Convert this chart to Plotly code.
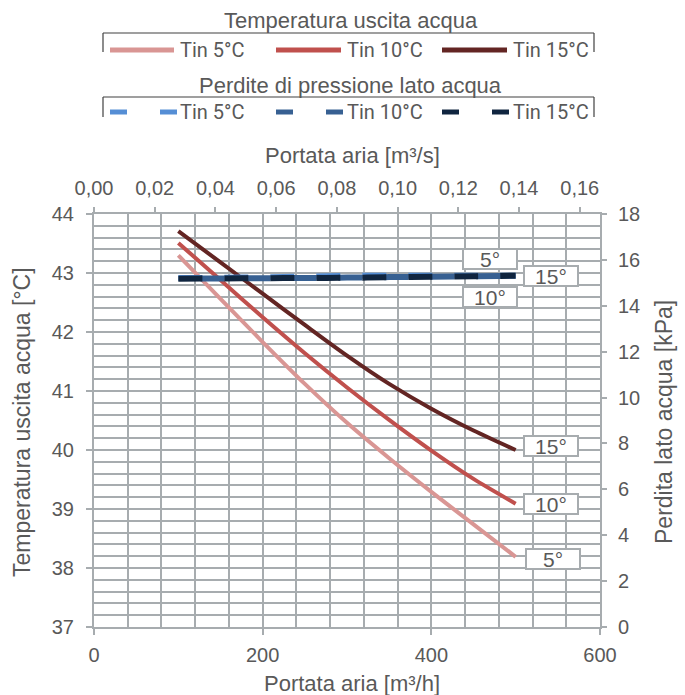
import plotly.graph_objects as go

# ---------------- data ----------------
portata_m3h = [100, 150, 200, 250, 300, 350, 400, 450, 500]

temp_tin5 = [43.30, 42.56, 41.83, 41.12, 40.46, 39.86, 39.29, 38.74, 38.19]
temp_tin10 = [43.51, 42.88, 42.25, 41.64, 41.06, 40.51, 39.99, 39.51, 39.09]
temp_tin15 = [43.71, 43.18, 42.65, 42.12, 41.60, 41.12, 40.70, 40.33, 40.00]

dp_tin5 = [15.21, 15.22, 15.24, 15.27, 15.30, 15.31, 15.31, 15.31, 15.31]
dp_tin10 = [15.18, 15.19, 15.20, 15.21, 15.23, 15.25, 15.27, 15.29, 15.31]
dp_tin15 = [15.18, 15.19, 15.20, 15.21, 15.22, 15.24, 15.27, 15.29, 15.31]

series_names = ["Tin 5°C", "Tin 10°C", "Tin 15°C"]
end_labels = ["5°", "10°", "15°"]
x_top_ticks = [0.00, 0.02, 0.04, 0.06, 0.08, 0.10, 0.12, 0.14, 0.16]

# ---------------- style ----------------
TEMP_COLORS = ["#D99694", "#C0504D", "#632523"]
DP_COLORS = ["#558ED5", "#376092", "#10253F"]
GRID = "#A7ACAF"
TXT = "#595959"
FONT = "Liberation Sans, Arial, sans-serif"
LEGFONT = "Roboto, Liberation Sans, sans-serif"

W, H = 685, 695
L, R, T, B = 94, 85, 214, 68
PW, PH = W - L - R, H - T - B


def px(x):
    return (x - L) / PW


def py(y):
    return (H - B - y) / PH


fig = go.Figure()

temps = [temp_tin5, temp_tin10, temp_tin15]
dps = [dp_tin5, dp_tin10, dp_tin15]

for i in range(3):
    fig.add_trace(go.Scatter(
        x=portata_m3h, y=temps[i], name=series_names[i], mode="lines",
        line=dict(color=TEMP_COLORS[i], width=4, shape="spline", smoothing=0.8),
        xaxis="x", yaxis="y", showlegend=False))

dashes = ["24px,22px", "0px,22px,24px,0px", "24px,22px"]
for i in range(3):
    fig.add_trace(go.Scatter(
        x=portata_m3h, y=dps[i], name=series_names[i], mode="lines",
        line=dict(color=DP_COLORS[i], width=6, dash=dashes[i], shape="spline"),
        xaxis="x", yaxis="y2", showlegend=False))

# invisible helper trace for the m3/s axis
fig.add_trace(go.Scatter(
    x=[v / 3600 for v in portata_m3h], y=temp_tin15, mode="lines",
    line=dict(width=0, color="rgba(0,0,0,0)"), xaxis="x2", yaxis="y",
    showlegend=False, hoverinfo="skip"))

tickfont = dict(family=FONT, size=20, color=TXT)

fig.update_layout(
    width=W, height=H,
    margin=dict(l=L, r=R, t=T, b=B),
    paper_bgcolor="white", plot_bgcolor="white",
    separators=",.",
    showlegend=False,
    font=dict(family=FONT, color=TXT),
    xaxis=dict(range=[0, 600], tick0=0, dtick=200, ticks="outside", ticklen=6,
               tickwidth=2, tickcolor=GRID, showgrid=True, gridcolor=GRID,
               gridwidth=2, zeroline=False, showline=True, mirror=True,
               linecolor=GRID, linewidth=2, tickfont=tickfont, ticklabelstandoff=3,
               minor=dict(dtick=40, showgrid=True, gridcolor=GRID, gridwidth=2, ticks="")),
    xaxis2=dict(range=[0, 600 / 3600], overlaying="x", side="top", anchor="y",
                tickvals=x_top_ticks, tickformat=".2f", ticks="outside",
                ticklen=6, tickwidth=2, tickcolor=GRID, showgrid=False,
                zeroline=False, tickfont=tickfont, ticklabelstandoff=4),
    yaxis=dict(range=[37, 44], tick0=37, dtick=1, ticks="outside", ticklen=6,
               tickwidth=2, tickcolor=GRID, showgrid=True, gridcolor=GRID,
               gridwidth=2, zeroline=False, showline=True, mirror=True,
               linecolor=GRID, linewidth=2, tickfont=tickfont, ticklabelstandoff=8,
               minor=dict(dtick=0.2, showgrid=True, gridcolor=GRID, gridwidth=2, ticks="")),
    yaxis2=dict(range=[0, 18], tick0=0, dtick=2, overlaying="y", side="right",
                anchor="x", ticks="outside", ticklen=6, tickwidth=2,
                tickcolor=GRID, showgrid=False, zeroline=False, tickfont=tickfont,
                ticklabelstandoff=7),
)

ann = []
shapes = []

# axis titles
title_font = dict(family=FONT, size=22, color=TXT)
vtitle_font = dict(family=FONT, size=23, color=TXT)
ann.append(dict(text="Portata aria [m³/h]", x=px(352), y=py(683), xref="paper", yref="paper",
                showarrow=False, font=title_font, xanchor="center", yanchor="middle"))
ann.append(dict(text="Portata aria [m³/s]", x=px(352), y=py(155), xref="paper", yref="paper",
                showarrow=False, font=title_font, xanchor="center", yanchor="middle"))
ann.append(dict(text="Temperatura uscita acqua [°C]", x=px(22), y=py(422), xref="paper",
                yref="paper", showarrow=False, font=vtitle_font, textangle=-90,
                xanchor="center", yanchor="middle"))
ann.append(dict(text="Perdita lato acqua [kPa]", x=px(664), y=py(422), xref="paper",
                yref="paper", showarrow=False, font=vtitle_font, textangle=-90,
                xanchor="center", yanchor="middle"))

# end labels
lab_font = dict(family=FONT, size=21, color=TXT)
box = dict(showarrow=False, font=lab_font, bgcolor="white", bordercolor=GRID,
           borderwidth=2, borderpad=0, width=52, height=18, align="center")
temp_shift = [(9, -2), (7, 0), (7, 4)]
for i in range(3):
    ann.append(dict(text=end_labels[i], x=portata_m3h[-1], y=temps[i][-1], xref="x", yref="y",
                    xanchor="left", yanchor="middle", xshift=temp_shift[i][0],
                    yshift=temp_shift[i][1], **box))
# pressure labels
ann.append(dict(text=end_labels[2], x=portata_m3h[-1], y=dp_tin15[-1], xref="x", yref="y2",
                xanchor="left", yanchor="middle", xshift=7, **box))
ann.append(dict(text=end_labels[0], x=portata_m3h[-1], y=dp_tin15[-1], xref="x", yref="y2",
                xanchor="right", yanchor="bottom", xshift=2, yshift=6, **box))
ann.append(dict(text=end_labels[1], x=portata_m3h[-1], y=dp_tin15[-1], xref="x", yref="y2",
                xanchor="right", yanchor="top", xshift=2, yshift=-10, **box))

# legend titles
leg_title_font = dict(family=FONT, size=22, color=TXT)
ann.append(dict(text="Temperatura uscita acqua", x=px(351), y=py(20), xref="paper", yref="paper",
                showarrow=False, font=leg_title_font, xanchor="center", yanchor="middle"))
ann.append(dict(text="Perdite di pressione lato acqua", x=px(350), y=py(85), xref="paper",
                yref="paper", showarrow=False, font=leg_title_font, xanchor="center",
                yanchor="middle"))

# brackets
for (yt, yb) in [(33, 52), (97, 117)]:
    shapes.append(dict(type="line", xref="paper", yref="paper", x0=px(103), x1=px(594),
                       y0=py(yt), y1=py(yt), line=dict(color="#404040", width=1.2)))
    for xx in (103, 594):
        shapes.append(dict(type="line", xref="paper", yref="paper", x0=px(xx), x1=px(xx),
                           y0=py(yt), y1=py(yb), line=dict(color="#404040", width=1.2)))

leg_font = dict(family=LEGFONT, size=20, color=TXT)
line_x = [(110, 174), (276, 341), (442, 507)]
text_x = [178, 345, 511]
for i in range(3):
    x0, x1 = line_x[i]
    shapes.append(dict(type="line", xref="paper", yref="paper", x0=px(x0), x1=px(x1),
                       y0=py(50), y1=py(50), line=dict(color=TEMP_COLORS[i], width=5)))
    ann.append(dict(text=series_names[i], x=px(text_x[i]), y=py(50), xref="paper", yref="paper",
                    showarrow=False, font=leg_font, xanchor="left", yanchor="middle"))
    for (d0, d1) in [(x0, x0 + 17), (x0 + 50, x0 + 67)]:
        shapes.append(dict(type="line", xref="paper", yref="paper", x0=px(d0), x1=px(d1),
                           y0=py(112), y1=py(112), line=dict(color=DP_COLORS[i], width=5)))
    ann.append(dict(text=series_names[i], x=px(text_x[i]), y=py(112), xref="paper",
                    yref="paper", showarrow=False, font=leg_font, xanchor="left",
                    yanchor="middle"))

fig.update_layout(annotations=ann, shapes=shapes)

fig.write_html("out.html", config={"displayModeBar": False},
               post_script="document.body.style.margin='0';document.body.style.overflow='hidden';")
